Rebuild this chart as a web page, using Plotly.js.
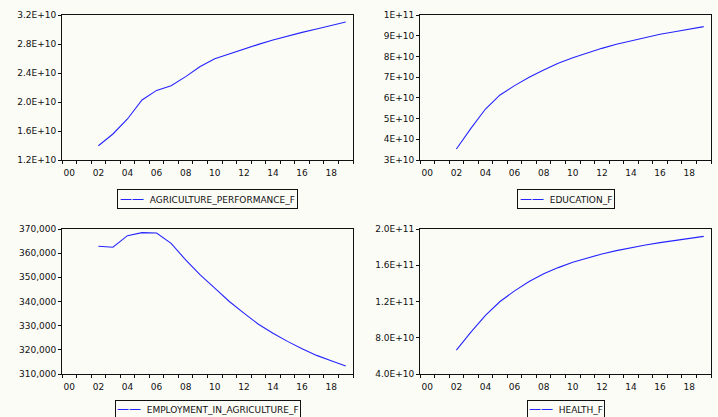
<!DOCTYPE html>
<html>
<head>
<meta charset="utf-8">
<script src="https://cdn.plot.ly/plotly-3.0.1.min.js"></script>
<style>
  html, body { margin: 0; padding: 0; background: #fcfcf7; }
  #chart { width: 718px; height: 417px; }
</style>
</head>
<body>
<div id="chart"></div>
<script>
// ---- data ----
const years = [2002, 2003, 2004, 2005, 2006, 2007, 2008, 2009, 2010, 2011,
               2012, 2013, 2014, 2015, 2016, 2017, 2018, 2019];

const agriculturePerformance = [1.397e10, 1.559e10, 1.766e10, 2.028e10, 2.160e10, 2.225e10,
  2.350e10, 2.490e10, 2.598e10, 2.667e10, 2.730e10, 2.795e10, 2.855e10, 2.910e10,
  2.960e10, 3.007e10, 3.050e10, 3.103e10];

const education = [3.53e10, 4.53e10, 5.46e10, 6.14e10, 6.59e10, 6.99e10, 7.34e10, 7.67e10,
  7.94e10, 8.18e10, 8.39e10, 8.59e10, 8.76e10, 8.92e10, 9.07e10, 9.19e10, 9.31e10, 9.44e10];

const employmentAgriculture = [362840, 362430, 367250, 368490, 368350, 364080, 357200, 351000,
  345500, 340000, 335200, 330600, 326900, 323500, 320500, 317700, 315500, 313300];

const health = [6.64e10, 8.62e10, 10.46e10, 12.0e10, 13.17e10, 14.2e10, 15.05e10, 15.74e10,
  16.33e10, 16.81e10, 17.25e10, 17.61e10, 17.94e10, 18.24e10, 18.5e10, 18.75e10, 18.97e10, 19.19e10];

const seriesNames = ["AGRICULTURE_PERFORMANCE_F", "EDUCATION_F", "EMPLOYMENT_IN_AGRICULTURE_F", "HEALTH_F"];

// x-axis tick labels
const xTickYears = [2000, 2002, 2004, 2006, 2008, 2010, 2012, 2014, 2016, 2018];
const xTickText  = ["00", "02", "04", "06", "08", "10", "12", "14", "16", "18"];
const firstYear = 2000, lastYear = 2019;

// y-axis ticks per panel
const yTicks1 = [1.2e10, 1.6e10, 2.0e10, 2.4e10, 2.8e10, 3.2e10];
const yText1  = ["1.2E+10", "1.6E+10", "2.0E+10", "2.4E+10", "2.8E+10", "3.2E+10"];
const yTicks2 = [3e10, 4e10, 5e10, 6e10, 7e10, 8e10, 9e10, 1e11];
const yText2  = ["3E+10", "4E+10", "5E+10", "6E+10", "7E+10", "8E+10", "9E+10", "1E+11"];
const yTicks3 = [310000, 320000, 330000, 340000, 350000, 360000, 370000];
const yText3  = ["310,000", "320,000", "330,000", "340,000", "350,000", "360,000", "370,000"];
const yTicks4 = [4e10, 8e10, 1.2e11, 1.6e11, 2.0e11];
const yText4  = ["4.0E+10", "8.0E+10", "1.2E+11", "1.6E+11", "2.0E+11"];

// ---- build ----
const lineColor = "#2424ff";
const bg = "#fcfcf7";
const fontFam = "DejaVu Sans, Arial, sans-serif";
const ink = "#111";

const boundaries = [];
for (let y = firstYear; y <= lastYear + 1; y++) boundaries.push(y - 0.5);

const allSeries = [agriculturePerformance, education, employmentAgriculture, health];
const axisIds = ["", "2", "3", "4"];

const traces = allSeries.map((vals, i) => ({
  x: years,
  y: vals,
  type: "scatter",
  mode: "lines",
  name: seriesNames[i],
  line: { color: lineColor, width: 1.1 },
  xaxis: "x" + axisIds[i],
  yaxis: "y" + axisIds[i],
  showlegend: false,
  hoverinfo: "skip"
}));

const W = 718, H = 417;
const colX = [[62 / W, 353 / W], [420 / W, 711 / W]];
const rowY = [[1 - 160 / H, 1 - 15 / H], [1 - 374 / H, 1 - 229 / H]];

function xAxis(dom, anchor) {
  return {
    domain: dom, anchor: anchor,
    range: [firstYear - 0.5, lastYear + 0.5],
    showline: true, mirror: true, linecolor: ink, linewidth: 1,
    showgrid: false, zeroline: false,
    tickmode: "array", tickvals: xTickYears, ticktext: xTickText,
    ticks: "outside", ticklen: 4, tickcolor: "rgba(0,0,0,0)",
    minor: { tickmode: "array", tickvals: boundaries, ticks: "outside", ticklen: 3, tickcolor: ink, tickwidth: 1, showgrid: false },
    tickfont: { family: fontFam, size: 9, color: ink },
    fixedrange: true
  };
}
function yAxis(dom, anchor, tv, tt) {
  return {
    domain: dom, anchor: anchor,
    range: [tv[0], tv[tv.length - 1]],
    showline: true, mirror: true, linecolor: ink, linewidth: 1,
    showgrid: false, zeroline: false,
    tickmode: "array", tickvals: tv, ticktext: tt,
    ticks: "outside", ticklen: 3, tickcolor: ink, tickwidth: 1,
    tickfont: { family: fontFam, size: 9, color: ink },
    fixedrange: true
  };
}
function legendBox(name, cx, topPx, pad) {
  return {
    xref: "paper", yref: "paper",
    x: cx, xanchor: "center",
    y: 1 - topPx / H, yanchor: "top",
    showarrow: false,
    text: "<span style='color:" + lineColor + ";font-size:12px'>——</span>  " + name,
    font: { family: fontFam, size: 9, color: ink },
    bgcolor: bg, bordercolor: ink, borderwidth: 1, borderpad: pad,
    align: "left"
  };
}

const cxL = (colX[0][0] + colX[0][1]) / 2, cxR = (colX[1][0] + colX[1][1]) / 2;

const layout = {
  width: W, height: H,
  margin: { l: 0, r: 0, t: 0, b: 0 },
  paper_bgcolor: bg, plot_bgcolor: bg,
  showlegend: false,
  xaxis:  xAxis(colX[0], "y"),
  yaxis:  yAxis(rowY[0], "x", yTicks1, yText1),
  xaxis2: xAxis(colX[1], "y2"),
  yaxis2: yAxis(rowY[0], "x2", yTicks2, yText2),
  xaxis3: xAxis(colX[0], "y3"),
  yaxis3: yAxis(rowY[1], "x3", yTicks3, yText3),
  xaxis4: xAxis(colX[1], "y4"),
  yaxis4: yAxis(rowY[1], "x4", yTicks4, yText4),
  annotations: [
    legendBox(seriesNames[0], cxL, 189, 2),
    legendBox(seriesNames[1], cxR, 189, 2),
    legendBox(seriesNames[2], cxL, 400, 1),
    legendBox(seriesNames[3], cxR, 400, 1)
  ]
};

Plotly.newPlot("chart", traces, layout, { displayModeBar: false, staticPlot: true });
</script>
</body>
</html>
